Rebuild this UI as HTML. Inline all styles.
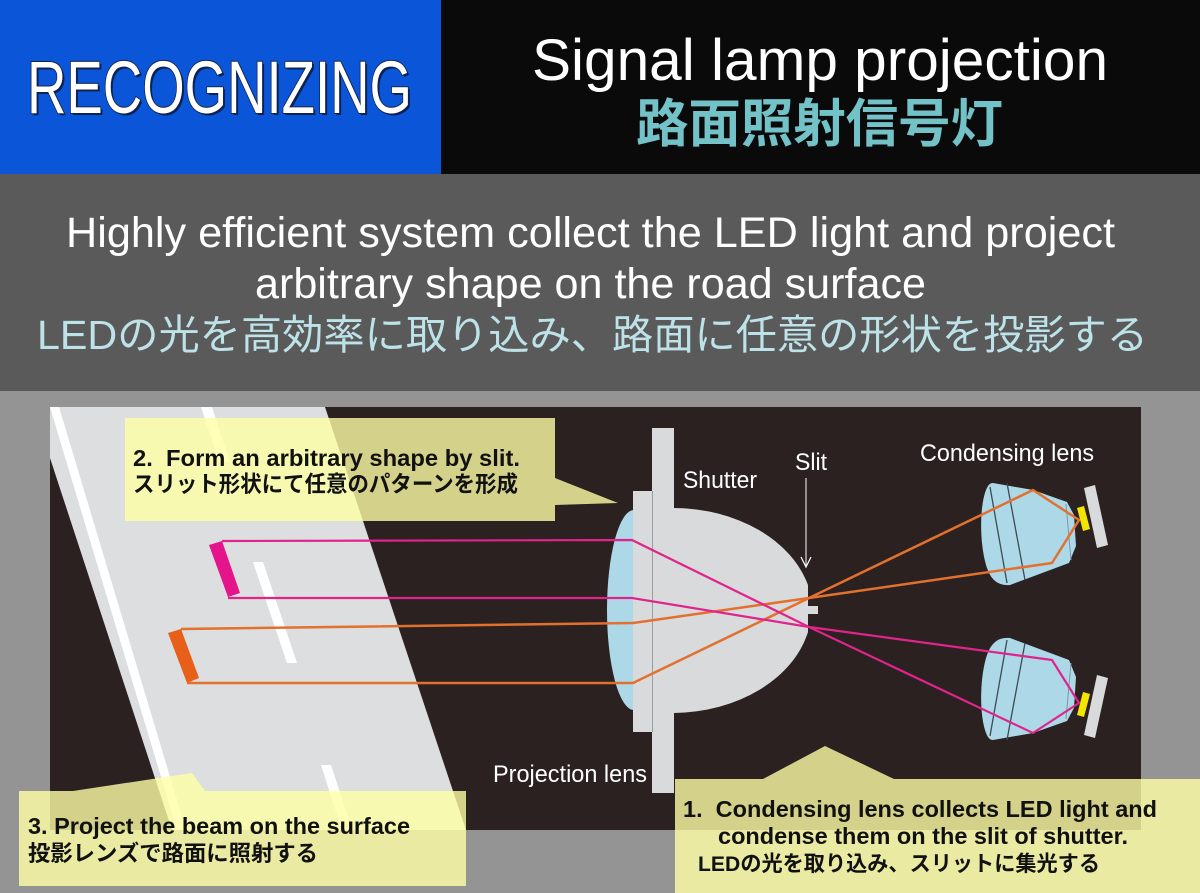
<!DOCTYPE html>
<html><head><meta charset="utf-8">
<style>
html,body{margin:0;padding:0;background:#949494;}
svg{display:block;}
text{white-space:pre;}
</style></head>
<body>
<svg width="1200" height="893" viewBox="0 0 1200 893" xmlns="http://www.w3.org/2000/svg">
<rect x="0" y="0" width="1200" height="893" fill="#949494"/>
<rect x="0" y="0" width="441" height="174" fill="#0a55d8"/>
<rect x="441" y="0" width="759" height="174" fill="#0a0a0a"/>
<rect x="0" y="174" width="1200" height="217" fill="#5a5a5a"/>

<!-- header texts -->
<text x="29" y="115" font-family="Liberation Sans, sans-serif" font-size="74" textLength="385" lengthAdjust="spacingAndGlyphs" fill="#06122e" opacity="0.75">RECOGNIZING</text>
<text x="27" y="113" font-family="Liberation Sans, sans-serif" font-size="74" textLength="385" lengthAdjust="spacingAndGlyphs" fill="#ffffff" stroke="#14254d" stroke-width="2" paint-order="stroke">RECOGNIZING</text>

<text x="532" y="80" font-family="Liberation Sans, sans-serif" font-size="58" textLength="576" lengthAdjust="spacingAndGlyphs" fill="#ffffff">Signal lamp projection</text>
<text x="636" y="142" font-family="Liberation Sans, 'Noto Sans CJK JP', sans-serif" font-size="52" font-weight="bold" textLength="367" lengthAdjust="spacingAndGlyphs" fill="#72c2c8">路面照射信号灯</text>

<text x="66" y="247" font-family="Liberation Sans, sans-serif" font-size="43" textLength="1049" lengthAdjust="spacingAndGlyphs" fill="#ffffff">Highly efficient system collect the LED light and project</text>
<text x="255" y="298" font-family="Liberation Sans, sans-serif" font-size="43" textLength="671" lengthAdjust="spacingAndGlyphs" fill="#ffffff">arbitrary shape on the road surface</text>
<text x="37" y="349" font-family="Liberation Sans, 'Noto Sans CJK JP', sans-serif" font-size="41" textLength="1111" lengthAdjust="spacingAndGlyphs" fill="#bde2e8">LEDの光を高効率に取り込み、路面に任意の形状を投影する</text>

<!-- diagram panel -->
<rect x="50" y="407" width="1091" height="423" fill="#2a2120"/>

<!-- road -->
<polygon points="50,407 325,407 466,830 172,830 50,458" fill="#dcdedf"/>
<polygon points="50,407 59,407 186,830 177,830" fill="#ffffff"/>
<polygon points="201,407 212,407 230,462 219,462" fill="#ffffff"/>
<polygon points="253,562 263,562 297,663 287,663" fill="#ffffff"/>
<polygon points="321,765 331,765 352,830 342,830" fill="#ffffff"/>

<!-- projected shapes -->
<polygon points="209,545 222,541 240,593 228,597" fill="#e4148a"/>
<polygon points="168,633 181,629 199,678 187,683" fill="#e85f1a"/>

<!-- projection lens -->
<path d="M634,510 A 27 100 0 0 0 634,710 Z" fill="#acd8e8"/>
<rect x="633" y="491" width="19" height="241" fill="#d8dadb"/>
<rect x="652" y="428" width="22" height="365" fill="#d8dadb"/>
<line x1="652.5" y1="491" x2="652.5" y2="732" stroke="#9a9c9d" stroke-width="1"/>

<!-- shutter dome -->
<path d="M674,508 A 140 105 0 0 1 808,585 L808,606 L818,606 L818,614 L808,614 L808,632 A 140 105 0 0 1 674,713 Z" fill="#d8dadb"/>

<!-- slit arrow -->
<line x1="806" y1="478" x2="806" y2="566" stroke="#ffffff" stroke-width="1"/>
<polyline points="801,557 806,567 811,557" fill="none" stroke="#ffffff" stroke-width="1.2"/>

<!-- condensing lens top -->
<g>
<path d="M993,483 L1033,490 L1067,502 L1074,515 L1076,546 L1069,563 L1010,585 C996,586 990,578 986,565 C979,540 980,505 986,490 C988,485 990,483 993,483 Z" fill="#acd8e8"/>
<line x1="990" y1="487" x2="1007" y2="583" stroke="#3c4a55" stroke-width="1.3"/>
<line x1="1007" y1="483" x2="1025" y2="580" stroke="#3c4a55" stroke-width="1.3"/>
<line x1="1066" y1="504" x2="1071" y2="560" stroke="#7a98a6" stroke-width="1"/>
<polygon points="1077,508 1084,506 1090,529 1083,531" fill="#f3e500"/>
<polygon points="1084,488 1095,485 1108,545 1097,548" fill="#d8dadb"/>
</g>
<g transform="translate(0,1223) scale(1,-1)">
<path d="M993,483 L1033,490 L1067,502 L1074,515 L1076,546 L1069,563 L1010,585 C996,586 990,578 986,565 C979,540 980,505 986,490 C988,485 990,483 993,483 Z" fill="#acd8e8"/>
<line x1="990" y1="487" x2="1007" y2="583" stroke="#3c4a55" stroke-width="1.3"/>
<line x1="1007" y1="483" x2="1025" y2="580" stroke="#3c4a55" stroke-width="1.3"/>
<line x1="1066" y1="504" x2="1071" y2="560" stroke="#7a98a6" stroke-width="1"/>
<polygon points="1077,508 1084,506 1090,529 1083,531" fill="#f3e500"/>
<polygon points="1084,488 1095,485 1108,545 1097,548" fill="#d8dadb"/>
</g>

<!-- rays -->
<g fill="none" stroke-linejoin="round">
<polyline points="181,629 633,623 809,598" stroke="#e2702e" stroke-width="2.5"/>
<polyline points="187,683 633,683 809,598" stroke="#e2702e" stroke-width="2.5"/>
<polyline points="809,598 1033,490 1079,520 1052,563 809,598" stroke="#e2702e" stroke-width="2.5"/>
<polyline points="222,541 632,540 809,627" stroke="#e0248c" stroke-width="2.2"/>
<polyline points="228,598 632,598 809,627" stroke="#e0248c" stroke-width="2.2"/>
<polyline points="809,627 1052,660 1079,703 1033,733 809,627" stroke="#e0248c" stroke-width="2.2"/>
</g>

<!-- labels -->
<g font-family="Liberation Sans, sans-serif" font-size="24" fill="#ffffff">
<text x="683" y="488" textLength="74" lengthAdjust="spacingAndGlyphs">Shutter</text>
<text x="795" y="470" textLength="32" lengthAdjust="spacingAndGlyphs">Slit</text>
<text x="920" y="461" textLength="174" lengthAdjust="spacingAndGlyphs">Condensing lens</text>
<text x="493" y="782" textLength="154" lengthAdjust="spacingAndGlyphs">Projection lens</text>
</g>

<!-- callouts -->
<g fill="rgba(255,255,165,0.8)">
<path d="M125,418 H555 V478 L618,503 L555,505 V521 H125 Z"/>
<path d="M19,791 H73 L192,773 L205,791 H466 V886 H19 Z"/>
<path d="M675,779 H763 L825,746 L894,779 H1200 V893 H675 Z"/>
</g>

<g fill="#111111" font-weight="bold">
<text x="133" y="466" font-family="Liberation Sans, sans-serif" font-size="23" textLength="387" lengthAdjust="spacingAndGlyphs">2.  Form an arbitrary shape by slit.</text>
<text x="133" y="492" font-family="Liberation Sans, 'Noto Sans CJK JP', sans-serif" font-size="22.5" textLength="385" lengthAdjust="spacingAndGlyphs">スリット形状にて任意のパターンを形成</text>

<text x="28" y="834" font-family="Liberation Sans, sans-serif" font-size="23" textLength="382" lengthAdjust="spacingAndGlyphs">3. Project the beam on the surface</text>
<text x="28" y="861" font-family="Liberation Sans, 'Noto Sans CJK JP', sans-serif" font-size="22" textLength="290" lengthAdjust="spacingAndGlyphs">投影レンズで路面に照射する</text>

<text x="683" y="817" font-family="Liberation Sans, sans-serif" font-size="23" textLength="474" lengthAdjust="spacingAndGlyphs">1.  Condensing lens collects LED light and</text>
<text x="718" y="844" font-family="Liberation Sans, sans-serif" font-size="23" textLength="410" lengthAdjust="spacingAndGlyphs">condense them on the slit of shutter.</text>
<text x="698" y="871" font-family="Liberation Sans, 'Noto Sans CJK JP', sans-serif" font-size="21.5" textLength="402" lengthAdjust="spacingAndGlyphs">LEDの光を取り込み、スリットに集光する</text>
</g>
</svg>
</body></html>
